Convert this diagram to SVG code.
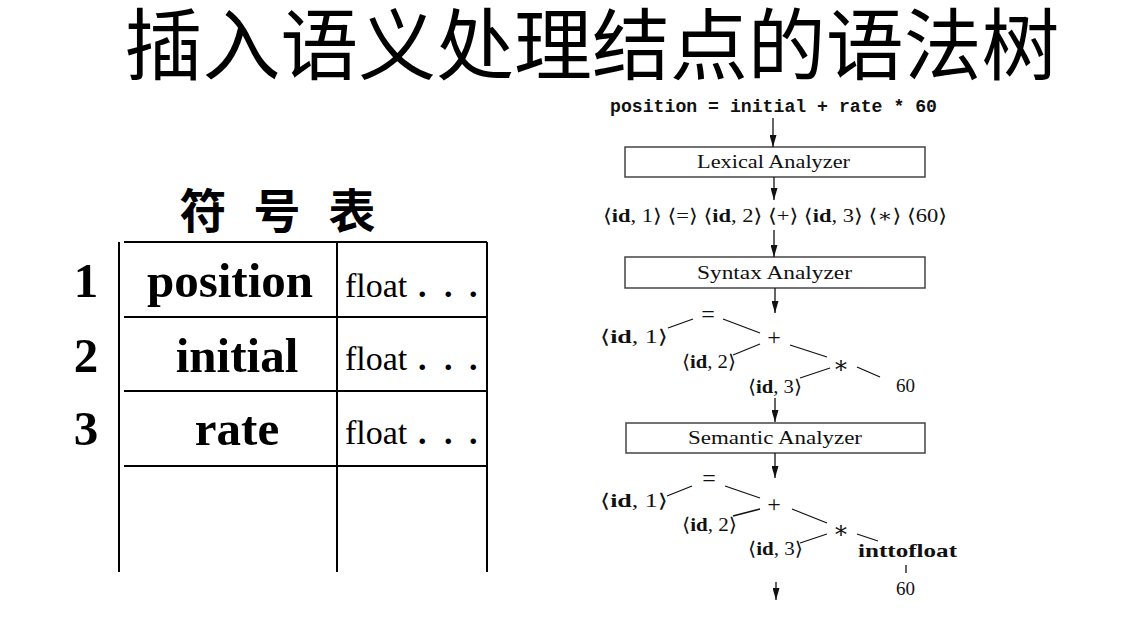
<svg xmlns="http://www.w3.org/2000/svg" width="1146" height="619" viewBox="0 0 1146 619">
<style>
.cjk{font-family:"Noto Sans CJK SC",sans-serif;fill:#000}
.tb{font-family:"Liberation Serif","Times New Roman",serif;fill:#000}
.sv{font-family:"Liberation Serif","DejaVu Serif",serif;fill:#111;font-size:19px}
.op{font-family:"Liberation Serif","DejaVu Serif",serif;fill:#111;font-size:24px}
.mono{font-family:"Liberation Mono","Courier New",monospace;font-weight:bold;font-size:18px;fill:#111}
.grid{stroke:#000;stroke-width:2;fill:none}
.box{fill:#fff;stroke:#444;stroke-width:1.5}
.edge{stroke:#111;stroke-width:1.3;fill:none}
.arr{stroke:#111;stroke-width:1.3;fill:none;marker-end:url(#ah)}
.b{font-weight:bold}
</style>
<defs>
<marker id="ah" markerUnits="userSpaceOnUse" markerWidth="13" markerHeight="7" refX="12" refY="3.5" orient="auto">
<path d="M0,0 L12,3.5 L0,7 z" fill="#111"/>
</marker>
</defs>
<rect width="1146" height="619" fill="#fff"/>
<g id="title">
<text class="cjk" x="592" y="74" font-size="78" text-anchor="middle" textLength="935" lengthAdjust="spacingAndGlyphs">插入语义处理结点的语法树</text>
</g>
<g id="symbol-table">
<text class="cjk" x="203" y="228" font-size="47" font-weight="bold" text-anchor="middle">符</text>
<text class="cjk" x="277" y="228" font-size="47" font-weight="bold" text-anchor="middle">号</text>
<text class="cjk" x="352" y="228" font-size="47" font-weight="bold" text-anchor="middle">表</text>
<line class="grid" x1="119" y1="242" x2="119" y2="572"/>
<line class="grid" x1="337" y1="242" x2="337" y2="572"/>
<line class="grid" x1="487" y1="242" x2="487" y2="572"/>
<line class="grid" x1="124" y1="242" x2="487" y2="242"/>
<line class="grid" x1="124" y1="317" x2="487" y2="317"/>
<line class="grid" x1="124" y1="391" x2="487" y2="391"/>
<line class="grid" x1="124" y1="466" x2="487" y2="466"/>
<text class="tb b" x="86" y="297" font-size="49" text-anchor="middle">1</text>
<text class="tb b" x="86" y="372" font-size="49" text-anchor="middle">2</text>
<text class="tb b" x="86" y="445" font-size="49" text-anchor="middle">3</text>
<text class="tb b" x="230" y="297" font-size="49" text-anchor="middle">position</text>
<text class="tb b" x="237" y="372" font-size="49" text-anchor="middle">initial</text>
<text class="tb b" x="237" y="445" font-size="49" text-anchor="middle">rate</text>
<text class="tb" x="345" y="297" font-size="34">float<tspan class="b" x="418">.</tspan><tspan class="b" x="444">.</tspan><tspan class="b" x="469">.</tspan></text>
<text class="tb" x="345" y="370" font-size="34">float<tspan class="b" x="418">.</tspan><tspan class="b" x="444">.</tspan><tspan class="b" x="469">.</tspan></text>
<text class="tb" x="345" y="444" font-size="34">float<tspan class="b" x="418">.</tspan><tspan class="b" x="444">.</tspan><tspan class="b" x="469">.</tspan></text>
</g>
<g id="source">
<text class="mono" x="610" y="112" textLength="327" lengthAdjust="spacingAndGlyphs">position = initial + rate * 60</text>
</g>
<g id="lexical-analyzer">
<rect class="box" x="625" y="147" width="300" height="30"/>
<text class="sv" x="697" y="168" textLength="153" lengthAdjust="spacingAndGlyphs">Lexical Analyzer</text>
</g>
<g id="tokens">
<text class="sv" x="603" y="222" textLength="344" lengthAdjust="spacingAndGlyphs">⟨<tspan class="b">id</tspan>, 1⟩ ⟨=⟩ ⟨<tspan class="b">id</tspan>, 2⟩ ⟨+⟩ ⟨<tspan class="b">id</tspan>, 3⟩ ⟨∗⟩ ⟨60⟩</text>
</g>
<g id="syntax-analyzer">
<rect class="box" x="625" y="257" width="300" height="31"/>
<text class="sv" x="697" y="279" textLength="155" lengthAdjust="spacingAndGlyphs">Syntax Analyzer</text>
</g>
<g id="syntax-tree">
<text class="op" x="708" y="322" text-anchor="middle">=</text>
<text class="sv" x="600" y="343" textLength="68" lengthAdjust="spacingAndGlyphs">⟨<tspan class="b">id</tspan>, 1⟩</text>
<text class="op" x="774" y="345" text-anchor="middle">+</text>
<text class="sv" x="682" y="368" textLength="54" lengthAdjust="spacingAndGlyphs">⟨<tspan class="b">id</tspan>, 2⟩</text>
<text class="op" x="841" y="373" text-anchor="middle">∗</text>
<text class="sv" x="748" y="393" textLength="54" lengthAdjust="spacingAndGlyphs">⟨<tspan class="b">id</tspan>, 3⟩</text>
<text class="sv" x="896" y="392">60</text>
</g>
<g id="semantic-analyzer">
<rect class="box" x="626" y="423" width="299" height="30"/>
<text class="sv" x="688" y="444" textLength="174" lengthAdjust="spacingAndGlyphs">Semantic Analyzer</text>
</g>
<g id="semantic-tree">
<text class="op" x="709" y="486" text-anchor="middle">=</text>
<text class="sv" x="600" y="507" textLength="68" lengthAdjust="spacingAndGlyphs">⟨<tspan class="b">id</tspan>, 1⟩</text>
<text class="op" x="774" y="512" text-anchor="middle">+</text>
<text class="sv" x="682" y="531" textLength="55" lengthAdjust="spacingAndGlyphs">⟨<tspan class="b">id</tspan>, 2⟩</text>
<text class="op" x="841" y="538" text-anchor="middle">∗</text>
<text class="sv" x="748" y="555" textLength="55" lengthAdjust="spacingAndGlyphs">⟨<tspan class="b">id</tspan>, 3⟩</text>
<text class="sv b" x="858" y="557" textLength="99" lengthAdjust="spacingAndGlyphs">inttofloat</text>
<text class="sv" x="896" y="595">60</text>
</g>
<g id="connectors">
<line class="arr" x1="773" y1="118" x2="773" y2="147"/>
<line class="arr" x1="774" y1="177" x2="774" y2="200"/>
<line class="arr" x1="774" y1="230" x2="774" y2="257"/>
<line class="arr" x1="775" y1="288" x2="775" y2="313"/>
<line class="arr" x1="775" y1="398" x2="775" y2="422"/>
<line class="arr" x1="775" y1="453" x2="775" y2="478"/>
<line class="arr" x1="776" y1="582" x2="776" y2="600"/>
<line class="edge" x1="668" y1="328" x2="693" y2="319"/>
<line class="edge" x1="723" y1="319" x2="760" y2="333"/>
<line class="edge" x1="733" y1="355" x2="760" y2="344"/>
<line class="edge" x1="790" y1="345" x2="827" y2="357"/>
<line class="edge" x1="800" y1="378" x2="830" y2="368"/>
<line class="edge" x1="857" y1="367" x2="880" y2="377"/>
<line class="edge" x1="667" y1="496" x2="692" y2="486"/>
<line class="edge" x1="725" y1="486" x2="760" y2="498"/>
<line class="edge" x1="733" y1="516" x2="760" y2="509"/>
<line class="edge" x1="792" y1="509" x2="827" y2="523"/>
<line class="edge" x1="800" y1="543" x2="827" y2="534"/>
<line class="edge" x1="857" y1="534" x2="878" y2="541"/>
<line class="edge" x1="906" y1="565" x2="906" y2="573"/>
</g>
</svg>
